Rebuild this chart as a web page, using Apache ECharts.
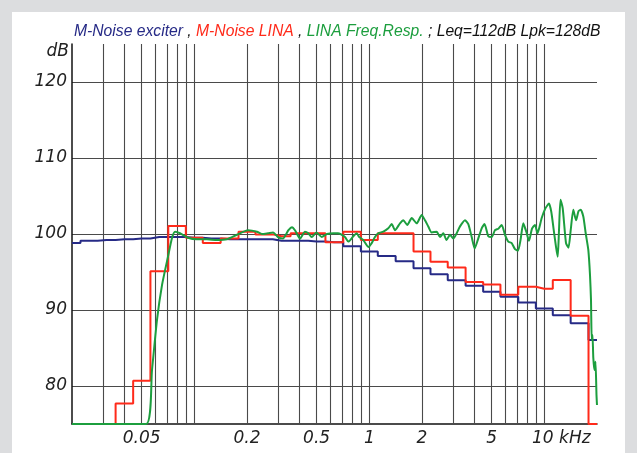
<!DOCTYPE html>
<html><head><meta charset="utf-8">
<script src="https://cdn.jsdelivr.net/npm/echarts@6/dist/echarts.min.js"></script>
<style>
html,body{margin:0;padding:0;background:#dcdddf;width:637px;height:453px;overflow:hidden}
#c{position:absolute;left:12px;top:12px;width:613px;height:441px;background:#fff}
</style></head><body><div id="c"></div>
<script>
// 1/3-octave band centres (kHz)
const bandFreqs = [0.02,0.025,0.0315,0.04,0.05,0.063,0.08,0.1,0.125,0.16,0.2,0.25,0.315,0.4,0.5,0.63,0.8,1,1.25,1.6,2,2.5,3.15,4,5,6.3,8,10,12.5,16,20];
// M-Noise exciter (dB)
const exciterDb = [98.8,99.1,99.2,99.3,99.4,99.6,99.6,99.5,99.4,99.3,99.3,99.3,99.1,99.1,99.0,98.9,98.4,97.7,97.1,96.4,95.5,94.7,93.9,93.2,92.4,91.75,91.0,90.2,89.3,88.25,86.05];
// M-Noise LINA (dB)
const linaDb = [75,75,75,77.7,80.7,95.1,101.05,99.5,98.8,99.4,100.3,99.95,99.7,100.1,100.1,98.9,100.3,99.2,100.1,100.1,97.7,96.35,95.6,93.7,93.35,92.0,93.05,92.8,93.95,89.25,75];
// LINA frequency response (kHz, dB)
const respFreqs = [0.02,0.053,0.0573,0.0612,0.0654,0.0707,0.0746,0.0776,0.0828,0.092,0.1036,0.118,0.1348,0.1537,0.1753,0.2026,0.228,0.2436,0.2636,0.2817,0.3008,0.321,0.345,0.3616,0.376,0.4018,0.429,0.448,0.4686,0.499,0.5346,0.573,0.6225,0.662,0.726,0.7586,0.81,0.847,0.876,0.924,0.987,1.032,1.077,1.125,1.202,1.283,1.342,1.402,1.497,1.564,1.648,1.747,1.865,1.992,2.08,2.172,2.272,2.427,2.534,2.647,2.761,2.891,3.02,3.158,3.298,3.522,3.678,3.846,4.0,4.178,4.387,4.551,4.786,5.004,5.226,5.458,5.708,5.962,6.226,6.511,6.8,7.074,7.31,7.583,7.889,8.175,8.504,8.845,9.141,9.661,10.156,10.635,10.964,11.284,11.662,11.925,12.131,12.371,12.735,13.302,13.745,14.15,14.644,15.171,15.68,16.142,16.702,17.238,17.84,18.24,18.482,18.652,18.85,19.052,19.352,19.608,19.868,20];
const respDb = [75,75,82.1,88.7,93.3,97.0,99.5,100.3,100.1,99.5,99.3,99.3,99.2,99.3,99.9,100.5,100.3,100.0,100.1,100.2,99.6,99.4,100.5,100.9,100.5,99.4,100.3,100.1,99.6,100.2,99.6,100.0,100.1,100.1,99.6,99.0,99.7,100.1,99.6,99.2,98.3,98.8,99.6,100.1,100.3,100.75,101.3,100.5,101.4,101.8,101.2,102.1,101.4,102.5,101.8,101.0,100.2,100.3,99.6,100.1,99.2,99.9,99.4,100.1,101.0,101.8,101.3,99.6,98.1,99.3,100.75,101.3,99.7,99.6,100.5,100.7,101.2,99.9,99.0,98.8,98.0,97.8,99.2,101.4,100.3,99.1,100.7,101.2,100.1,102.1,103.4,104.0,102.9,100.75,98.3,97.0,100.5,104.5,103.4,98.8,98.2,100.5,103.2,101.8,103.0,103.2,102.3,100.1,97.9,94.6,91.3,86.05,86.7,83.7,82.1,83.2,78.8,77.5];
// vertical grid lines (kHz) and x tick labels
const gridFreqs = [0.03,0.04,0.05,0.06,0.07,0.08,0.09,0.1,0.2,0.3,0.4,0.5,0.6,0.7,0.8,0.9,1,2,3,4,5,6,7,8,9,10];
const xTickValues = [0.05,0.2,0.5,1,2,5,10];
const xTickLabels = ['0.05','0.2','0.5','1','2','5','10 kHz'];
const yTickValues = [80,90,100,110,120];

const BLUE = '#262a86', RED = '#ff2a1a', GREEN = '#1c9e3e', GRID = '#4a4a4a';
const LABEL_FONT = 'DejaVu Sans';
const labelStyle = {fontFamily: LABEL_FONT, fontStyle: 'italic', fontSize: 17, color: '#222'};

const chart = echarts.init(document.getElementById('c'), null, {renderer: 'canvas'});
const tFont = {fontFamily: 'Liberation Sans', fontStyle: 'italic', fontSize: 15.7};
chart.setOption({
  animation: false,
  title: {
    text: '{b|M-Noise exciter} , {r|M-Noise LINA} , {g|LINA Freq.Resp.} ; Leq=112dB Lpk=128dB',
    left: 57, top: 7,
    textStyle: Object.assign({color: '#111', fontWeight: 'normal', rich: {
      b: Object.assign({color: BLUE}, tFont),
      r: Object.assign({color: RED}, tFont),
      g: Object.assign({color: GREEN}, tFont)
    }}, tFont)
  },
  grid: {left: 60, right: 28, top: 32, bottom: 29},
  xAxis: {
    type: 'log', logBase: 10, min: 0.02, max: 20,
    axisLine: {show: true, lineStyle: {color: '#111', width: 1.5}},
    axisTick: {show: false}, axisLabel: {show: false},
    splitLine: {show: false}, minorTick: {show: false}, minorSplitLine: {show: false}
  },
  yAxis: {
    type: 'value', min: 75, max: 125,
    name: 'dB', nameLocation: 'end', nameGap: -8,
    nameTextStyle: Object.assign({align: 'right', verticalAlign: 'middle', padding: [0, 3, 0, 0]}, labelStyle),
    axisLine: {show: true, lineStyle: {color: '#111', width: 1.5}},
    axisTick: {show: false, customValues: yTickValues},
    axisLabel: Object.assign({customValues: yTickValues, margin: 5}, labelStyle),
    splitLine: {show: true, lineStyle: {color: GRID, width: 1.1}}
  },
  series: [
    {
      name: 'grid', type: 'line', data: [[0.02, 75], [20, 75]], symbol: 'none', silent: true, z: 1,
      lineStyle: {opacity: 0},
      markLine: {
        silent: true, z: 1, animation: false, symbol: ['none', 'none'],
        lineStyle: {color: GRID, width: 1.1, type: 'solid'},
        emphasis: {disabled: true},
        data: gridFreqs.map(function (f) {
          const i = xTickValues.indexOf(f);
          if (i < 0) return {xAxis: f, label: {show: false}};
          return {xAxis: f, label: Object.assign({show: true, position: 'start', distance: 6,
            formatter: xTickLabels[i], offset: [f === 10 ? 17 : 0, 0]}, labelStyle)};
        })
      }
    },
    {name: 'M-Noise exciter', type: 'line', step: 'middle', symbol: 'none', z: 3,
      data: bandFreqs.map((f, i) => [f, exciterDb[i]]), lineStyle: {color: BLUE, width: 2}},
    {name: 'M-Noise LINA', type: 'line', step: 'middle', symbol: 'none', z: 4,
      data: bandFreqs.map((f, i) => [f, linaDb[i]]), lineStyle: {color: RED, width: 2}},
    {name: 'LINA Freq.Resp.', type: 'line', symbol: 'none', z: 5, smooth: 0.2,
      data: respFreqs.map((f, i) => [f, respDb[i]]), lineStyle: {color: GREEN, width: 2}}
  ]
});
</script></body></html>
